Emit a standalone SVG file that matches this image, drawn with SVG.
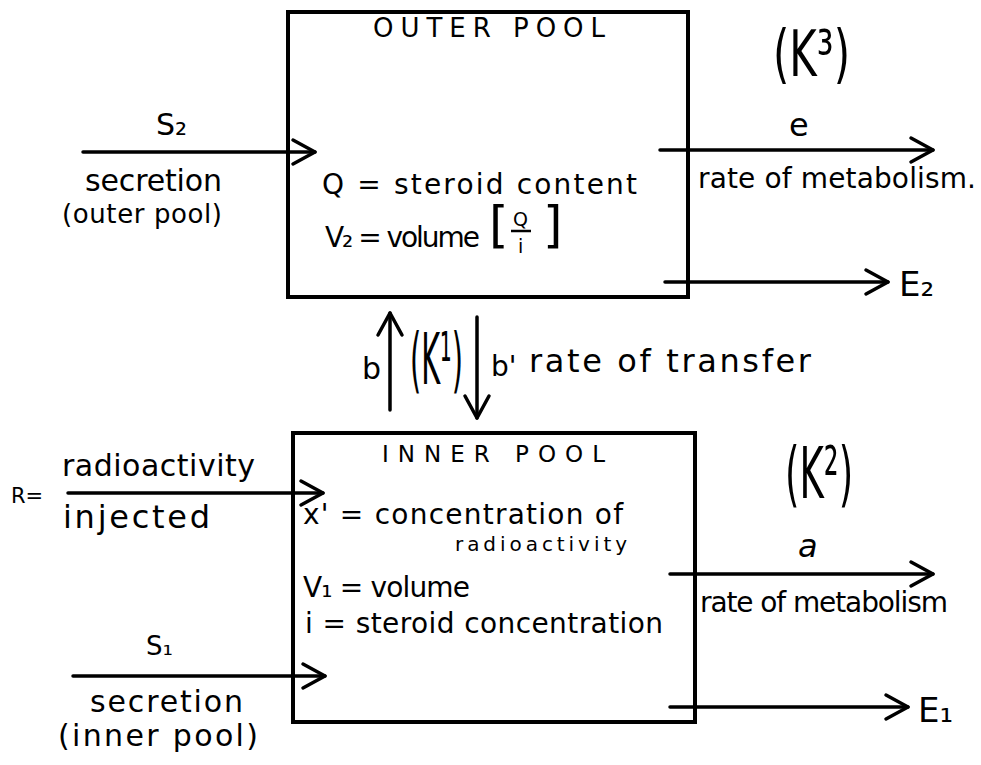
<svg xmlns="http://www.w3.org/2000/svg" width="981" height="765" viewBox="0 0 981 765">
  <style>
    text { font-family: "DejaVu Sans", "Liberation Sans", sans-serif; fill: #000; }
    .box { fill: none; stroke: #000; stroke-width: 4; }
    .flow { fill: none; stroke: #000; stroke-width: 3.5; stroke-linecap: round; }
    .t28 { font-size: 28px; }
    .t30 { font-size: 30px; }
  </style>
  <defs>
    <marker id="chev" markerUnits="userSpaceOnUse" viewBox="-26 -16 30 32" markerWidth="30" markerHeight="32" refX="0" refY="0" orient="auto">
      <path d="M-22,-12 L0,0 L-22,12" fill="none" stroke="#000" stroke-width="3.5" stroke-linecap="round" stroke-linejoin="round"/>
    </marker>
  </defs>

  <rect width="981" height="765" fill="#fff"/>

  <!-- outer pool -->
  <g id="outer-pool">
    <rect class="box" x="288" y="12" width="400" height="285"/>
    <text x="373" y="37" font-size="26" textLength="232" lengthAdjust="spacing">OUTER POOL</text>
    <text class="t28" x="322" y="194" textLength="315" lengthAdjust="spacing">Q = steroid content</text>
    <text class="t28" x="325" y="247" textLength="155" lengthAdjust="spacing">V₂ = volume</text>
    <text x="489" y="242" font-size="50">[</text>
    <text x="513" y="226" font-size="19">Q</text>
    <line x1="511" y1="231" x2="531" y2="231" stroke="#000" stroke-width="2.5"/>
    <text x="518" y="253" font-size="19">i</text>
    <text x="543" y="242" font-size="50">]</text>
  </g>

  <!-- inner pool -->
  <g id="inner-pool">
    <rect class="box" x="293" y="433" width="402" height="289"/>
    <text x="382" y="462" font-size="23" textLength="223" lengthAdjust="spacing">INNER POOL</text>
    <text class="t28" x="303" y="524" textLength="320" lengthAdjust="spacing">x' = concentration of</text>
    <text x="455" y="551" font-size="20" textLength="172" lengthAdjust="spacing">radioactivity</text>
    <text class="t28" x="303" y="597" textLength="167" lengthAdjust="spacing">V₁ = volume</text>
    <text class="t28" x="305" y="633" textLength="358" lengthAdjust="spacing">i = steroid concentration</text>
  </g>

  <!-- rate constants, narrowed horizontally -->
  <g id="k3">
    <text transform="translate(773,76) scale(0.655,1)" font-size="64">(K³)</text>
  </g>
  <g id="k2">
    <text transform="translate(785,498) scale(0.515,1)" font-size="72">(K²)</text>
  </g>
  <g id="k1">
    <text transform="translate(410,384) scale(0.4,1)" font-size="72">(K¹)</text>
  </g>

  <!-- flows in and out of the pools -->
  <g id="connectors">
    <path class="flow" d="M83,152 H315" marker-end="url(#chev)"/>
    <path class="flow" d="M660,150 H933" marker-end="url(#chev)"/>
    <path class="flow" d="M665,282 H888" marker-end="url(#chev)"/>
    <path class="flow" d="M390,410 V313" marker-end="url(#chev)"/>
    <path class="flow" d="M477,317 V418" marker-end="url(#chev)"/>
    <path class="flow" d="M68,493 H323" marker-end="url(#chev)"/>
    <path class="flow" d="M73,676 H325" marker-end="url(#chev)"/>
    <path class="flow" d="M670,574 H933" marker-end="url(#chev)"/>
    <path class="flow" d="M670,707 H908" marker-end="url(#chev)"/>
  </g>

  <!-- flow labels -->
  <g id="labels">
    <text x="156" y="135" font-size="30">S₂</text>
    <text class="t30" x="85" y="191" textLength="137" lengthAdjust="spacing">secretion</text>
    <text x="62" y="223" font-size="26" textLength="160" lengthAdjust="spacing">(outer pool)</text>

    <text x="789" y="136" font-size="32">e</text>
    <text class="t28" x="698" y="188" textLength="278" lengthAdjust="spacing">rate of metabolism.</text>
    <text x="899" y="296" font-size="34">E₂</text>

    <text x="362" y="379" font-size="30">b</text>
    <text x="491" y="376" font-size="28">b'</text>
    <text x="529" y="372" font-size="32" textLength="282" lengthAdjust="spacing">rate of transfer</text>

    <text x="11" y="503" font-size="21">R=</text>
    <text class="t30" x="62" y="476" textLength="193" lengthAdjust="spacing">radioactivity</text>
    <text x="63" y="528" font-size="32" textLength="147" lengthAdjust="spacing">injected</text>

    <text x="146" y="655" font-size="26">S₁</text>
    <text class="t30" x="90" y="712" textLength="153" lengthAdjust="spacing">secretion</text>
    <text class="t30" x="58" y="746" textLength="200" lengthAdjust="spacing">(inner pool)</text>

    <text x="798" y="557" font-size="32" font-style="italic">a</text>
    <text class="t28" x="700" y="612" textLength="248" lengthAdjust="spacing">rate of metabolism</text>
    <text x="918" y="722" font-size="34">E₁</text>
  </g>
</svg>
